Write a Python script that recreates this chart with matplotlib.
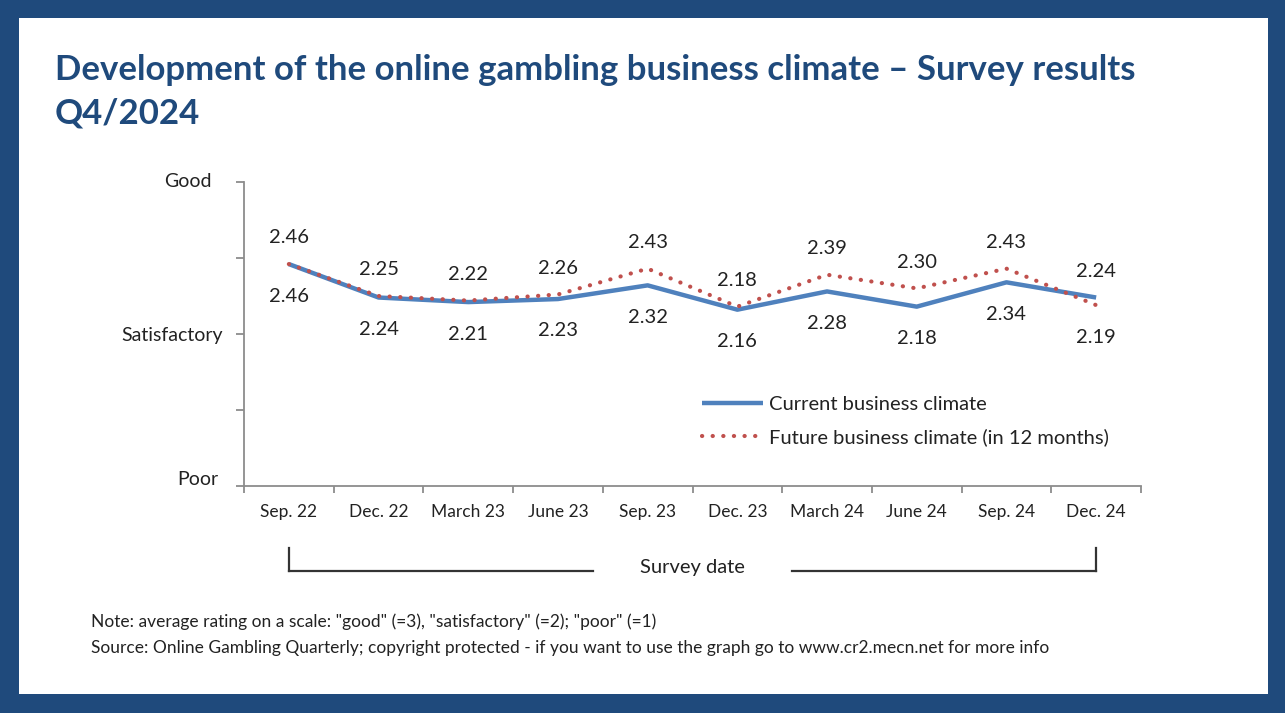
import matplotlib
matplotlib.use('Agg')
import matplotlib.pyplot as plt
import matplotlib.transforms as mtrans
from matplotlib.lines import Line2D

# Data
CATEGORIES = ['Sep. 22', 'Dec. 22', 'March 23', 'June 23', 'Sep. 23',
              'Dec. 23', 'March 24', 'June 24', 'Sep. 24', 'Dec. 24']
CURRENT = [2.46, 2.24, 2.21, 2.23, 2.32, 2.16, 2.28, 2.18, 2.34, 2.24]
FUTURE = [2.46, 2.25, 2.22, 2.26, 2.43, 2.18, 2.39, 2.30, 2.43, 2.19]
Y_TICKS = [1, 1.5, 2, 2.5, 3]
Y_LABELS = {1: 'Poor', 2: 'Satisfactory', 3: 'Good'}

TITLE_1 = 'Development of the online gambling business climate \u2013 Survey results'
TITLE_2 = 'Q4/2024'
NOTE = 'Note: average rating on a scale: "good" (=3), "satisfactory" (=2); "poor" (=1)'
SOURCE = ('Source: Online Gambling Quarterly; copyright protected - if you want to use '
          'the graph go to www.cr2.mecn.net for more info')

FRAME = '#1F4A7C'
BLUE = '#4F81BD'
RED = '#C0504D'
GREY = '#8C8C8C'
TEXT = '#222222'
FONT = 'Lato'

W, H = 1285, 713
fig = plt.figure(figsize=(W / 100, H / 100), dpi=100)
fig.patch.set_facecolor(FRAME)

# white panel inside the frame
panel = plt.Rectangle((19 / W, 1 - 694 / H), (1268 - 19) / W, (694 - 18) / H,
                      transform=fig.transFigure, facecolor='white', edgecolor='none', zorder=-10)
fig.patches.append(panel)

def fy(px):
  return 1 - px / H

fig.text(55 / W, fy(80), TITLE_1, fontsize=25, fontweight='bold', color=FRAME,
         family=FONT, va='baseline')
fig.text(55 / W, fy(124), TITLE_2, fontsize=25, fontweight='bold', color=FRAME,
         family=FONT, va='baseline')

ax = fig.add_axes([244 / W, fy(486), (1141 - 244) / W, (486 - 182) / H])
ax.set_zorder(2)
ax.set_facecolor('none')
x = list(range(len(CATEGORIES)))

ax.plot(x, CURRENT, color=BLUE, lw=3.2, solid_capstyle='butt', label='Current business climate', zorder=3)
ax.plot(x, FUTURE, color=RED, lw=3.0, linestyle=(0, (0.05, 2.5)), dash_capstyle='round',
        label='Future business climate (in 12 months)', zorder=4)

ax.set_xlim(-0.5, len(CATEGORIES) - 0.5)
ax.set_ylim(1, 3)

for spine in ['top', 'right']:
  ax.spines[spine].set_visible(False)
for spine in ['left', 'bottom']:
  ax.spines[spine].set_color(GREY)
  ax.spines[spine].set_linewidth(1.3)

# x: ticks between categories, labels at centres
ax.set_xticks([i - 0.5 for i in range(len(CATEGORIES) + 1)])
ax.set_xticklabels([])
ax.set_xticks(x, minor=True)
ax.set_xticklabels(CATEGORIES, minor=True, fontsize=12.5, family=FONT, color=TEXT)
ax.tick_params(axis='x', which='major', direction='out', length=5, width=1.3, color=GREY)
ax.tick_params(axis='x', which='minor', length=0, pad=13)

ax.set_yticks(Y_TICKS)
ax.set_yticklabels([Y_LABELS.get(t, '') for t in Y_TICKS], fontsize=14, family=FONT, color=TEXT)
ax.tick_params(axis='y', direction='out', length=6, width=1.3, color=GREY, pad=9)

# the original labels are not quite right aligned: nudge "Poor" and "Good"
def nudge(label, dx, dy):
  label.set_transform(label.get_transform() +
                      mtrans.ScaledTranslation(dx / 100, dy / 100, fig.dpi_scale_trans))

ylabels = ax.get_yticklabels()
nudge(ylabels[0], -5, 8)
nudge(ylabels[4], -12, 2)

# data labels: higher value above, lower value below
for i in x:
  hi = max(CURRENT[i], FUTURE[i])
  lo = min(CURRENT[i], FUTURE[i])
  ax.annotate('{:.2f}'.format(hi), (i, hi), xytext=(0, 19), textcoords='offset points',
              ha='center', va='center', fontsize=14.5, family=FONT, color=TEXT)
  ax.annotate('{:.2f}'.format(lo), (i, lo), xytext=(0, -23), textcoords='offset points',
              ha='center', va='center', fontsize=14.5, family=FONT, color=TEXT)

leg = ax.legend(loc='upper left', bbox_to_anchor=(684 / W, fy(378)), bbox_transform=fig.transFigure,
                frameon=False, handlelength=3.0, handletextpad=0.3, labelspacing=0.75,
                prop={'family': FONT, 'size': 14.5})
for t in leg.get_texts():
  t.set_color(TEXT)

# "Survey date" bracket, ends at first and last category
tr = mtrans.blended_transform_factory(ax.transData, fig.transFigure)
first, last = x[0], x[-1]
line_kw = dict(color='#333333', lw=1.6, zorder=5)
fig.add_artist(Line2D([first, first], [fy(548), fy(571)], transform=tr, **line_kw))
fig.add_artist(Line2D([last, last], [fy(548), fy(571)], transform=tr, **line_kw))
x_first_px = ax.transData.transform((first, 0))[0]
x_last_px = ax.transData.transform((last, 0))[0]
fig.add_artist(Line2D([x_first_px / W, 593 / W], [fy(571), fy(571)], transform=fig.transFigure, **line_kw))
fig.add_artist(Line2D([792 / W, x_last_px / W], [fy(571), fy(571)], transform=fig.transFigure, **line_kw))
fig.text(692 / W, fy(568), 'Survey date', fontsize=14.5, family=FONT,
         color=TEXT, ha='center', va='center')

fig.text(91 / W, fy(622), NOTE, fontsize=12.5, family=FONT, color=TEXT, va='center')
fig.text(91 / W, fy(648), SOURCE, fontsize=12.5, family=FONT, color=TEXT, va='center')

fig.savefig('out.png', dpi=100, facecolor=FRAME)
